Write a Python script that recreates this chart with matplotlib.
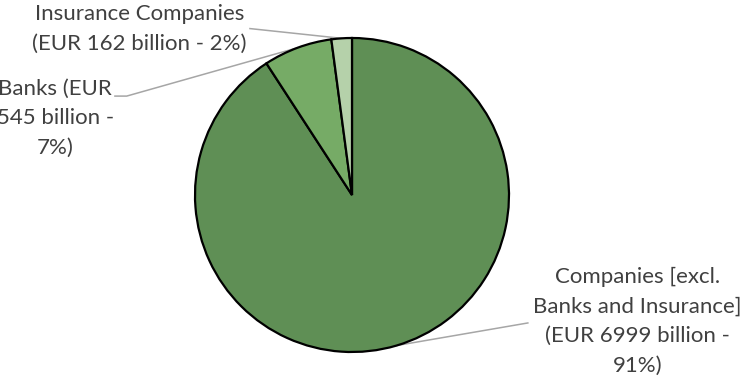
import matplotlib.pyplot as plt
import numpy as np

# Holdings by sector, EUR billion
sectors = ["Companies [excl.\nBanks and Insurance]\n(EUR 6999 billion -\n91%)",
           "Banks (EUR\n545 billion -\n7%)",
           "Insurance Companies\n(EUR 162 billion - 2%)"]
values = [6999, 545, 162]
colors = ["#5f8f55", "#76ab66", "#b5d1aa"]

plt.rcParams["font.family"] = ["Lato", "DejaVu Sans"]

fig = plt.figure(figsize=(7.42, 3.82), dpi=100)
ax = fig.add_axes([0, 0, 1, 1])

wedges, _ = ax.pie(values, colors=colors, startangle=90, counterclock=False,
                   radius=1.0, wedgeprops=dict(edgecolor="black", linewidth=1.6))

# axis limits chosen so one data unit is the same in x and y (157 px)
ax.set_xlim(-352 / 157, 390 / 157)
ax.set_ylim(-187 / 157, 195 / 157)
ax.set_aspect("auto")
ax.axis("off")

# label text centre and leader-line start for each slice (data units)
label_xy = [(1.82, -0.805), (-1.89, 0.49), (-1.355, 1.06)]
line_start = [[(1.12, -0.815)], [(-1.51, 0.63), (-1.435, 0.63)], [(-0.65, 1.06)]]
text_color = "#404040"

for w, txt, (tx, ty), pts in zip(wedges, sectors, label_xy, line_start):
    mid = np.deg2rad((w.theta1 + w.theta2) / 2)
    edge = (np.cos(mid), np.sin(mid))
    xs = [p[0] for p in pts] + [edge[0]]
    ys = [p[1] for p in pts] + [edge[1]]
    ax.plot(xs, ys, color="#a6a6a6", lw=1.1, zorder=0, clip_on=False)
    ax.text(tx, ty, txt, ha="center", va="center", fontsize=16,
            color=text_color, linespacing=1.6)

fig.savefig("out.png", dpi=100)
